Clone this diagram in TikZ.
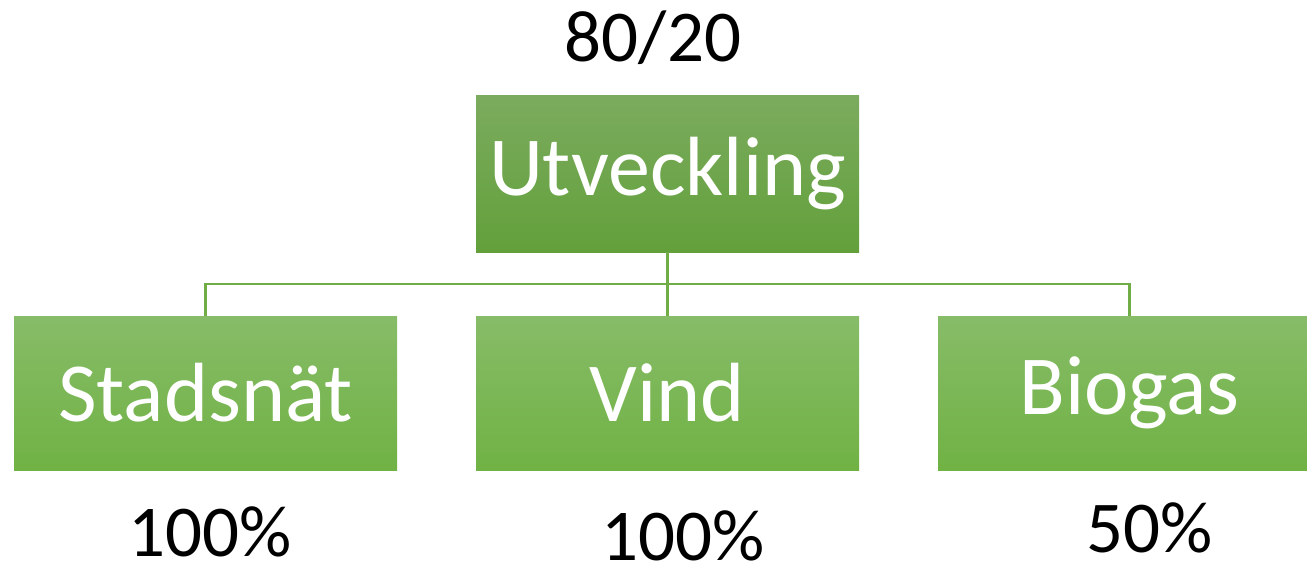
\documentclass[tikz,border=0pt]{standalone}
\usepackage{fontspec}
\setmainfont{Carlito}
\usetikzlibrary{calc}
\definecolor{topA}{HTML}{7BAB5E}
\definecolor{topB}{HTML}{63A03B}
\definecolor{botA}{HTML}{87BC68}
\definecolor{botB}{HTML}{70B244}
\definecolor{lineG}{HTML}{70AD47}
\tikzset{
  x=1pt,y=-1pt,
  topbox/.style={rectangle,inner sep=0pt,minimum width=383pt,minimum height=156pt,top color=topA,bottom color=topB,draw=none,text=white,font=\fontsize{84}{84}\selectfont},
  botbox/.style={rectangle,inner sep=0pt,minimum width=383pt,minimum height=154pt,top color=botA,bottom color=botB,draw=none,text=white,font=\fontsize{84}{84}\selectfont},
  conn/.style={draw=lineG,line width=2.2pt},
  lbl/.style={anchor=base,font=\fontsize{73}{73}\selectfont,text=black,inner sep=0pt}
}
\begin{document}
\begin{tikzpicture}
\useasboundingbox (0,0) rectangle (1307,567);
\clip (0,0) rectangle (1307,567);
\fill[white] (0,0) rectangle (1307,567);
\node[topbox] (top) at (667.5,174) {Utveckling};
\node[botbox] (s) at (205.5,393) {Stadsnät};
\node[botbox] (v) at (667.5,393) {Vind};
\node[botbox] (b) at (1129.5,393) {Biogas};
\draw[conn] (top.south) -- (v.north);
\draw[conn] (s.north) -- ++(0,-32) -| (b.north);
\node[lbl] (l0) at (653,62) {80/20};
\node[lbl] (l1) at (210,556) {100\%};
\node[lbl] (l2) at (683,560) {100\%};
\node[lbl] (l3) at (1150,552) {50\%};
\end{tikzpicture}
\end{document}
